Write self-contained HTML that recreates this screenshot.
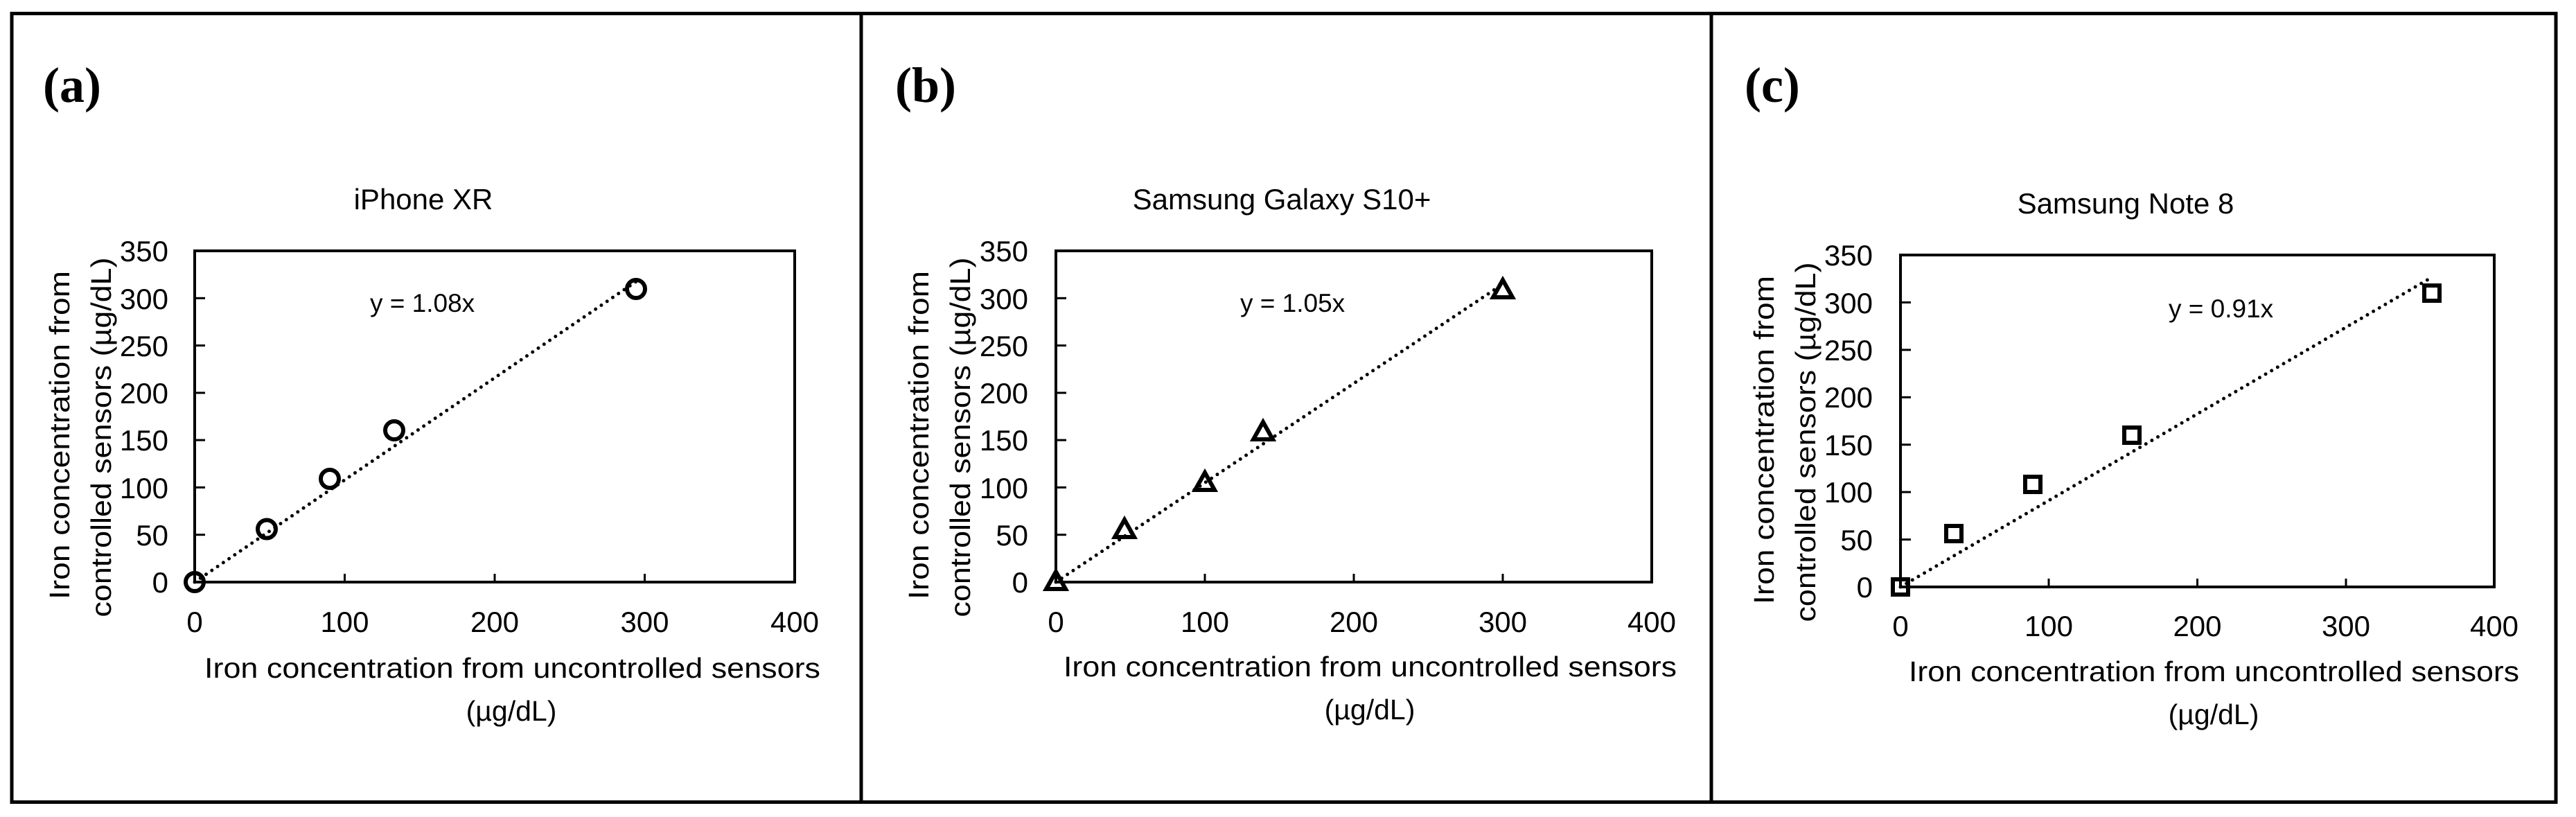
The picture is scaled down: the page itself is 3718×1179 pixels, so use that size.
<!DOCTYPE html>
<html><head><meta charset="utf-8"><style>html,body{margin:0;padding:0;background:#fff}svg{display:block}</style></head>
<body>
<svg width="3718" height="1179" viewBox="0 0 3718 1179" xmlns="http://www.w3.org/2000/svg" font-family="Liberation Sans, sans-serif" fill="#000">
<rect x="0" y="0" width="3718" height="1179" fill="#fff"/>
<rect x="17" y="19.5" width="3672" height="1138" fill="none" stroke="#000" stroke-width="5"/>
<line x1="1243" y1="19" x2="1243" y2="1158" stroke="#000" stroke-width="5"/>
<line x1="2470" y1="19" x2="2470" y2="1158" stroke="#000" stroke-width="5"/>

<g font-family="Liberation Serif, serif" font-weight="bold" font-size="72">
<text x="62" y="147">(a)</text>
<text x="1292" y="147">(b)</text>
<text x="2518" y="147">(c)</text>
</g>

<!-- Panel A -->
<g>
<text x="611" y="302" font-size="42" text-anchor="middle">iPhone XR</text>
<rect x="281" y="362" width="866" height="478" fill="none" stroke="#000" stroke-width="4"/>
<g stroke="#000" stroke-width="3">
<line x1="281" y1="771.7" x2="296" y2="771.7"/><line x1="281" y1="703.4" x2="296" y2="703.4"/><line x1="281" y1="635.1" x2="296" y2="635.1"/><line x1="281" y1="566.9" x2="296" y2="566.9"/><line x1="281" y1="498.6" x2="296" y2="498.6"/><line x1="281" y1="430.3" x2="296" y2="430.3"/>
<line x1="497.5" y1="840" x2="497.5" y2="828"/><line x1="714" y1="840" x2="714" y2="828"/><line x1="930.5" y1="840" x2="930.5" y2="828"/>
</g>
<g font-size="42" text-anchor="end">
<text x="243" y="855">0</text><text x="243" y="787">50</text><text x="243" y="719">100</text><text x="243" y="650">150</text><text x="243" y="582">200</text><text x="243" y="514">250</text><text x="243" y="446">300</text><text x="243" y="377">350</text>
</g>
<g font-size="42" text-anchor="middle">
<text x="281" y="912">0</text><text x="497.5" y="912">100</text><text x="714" y="912">200</text><text x="930.5" y="912">300</text><text x="1147" y="912">400</text>
</g>
<text x="295" y="978" font-size="41" textLength="889" lengthAdjust="spacingAndGlyphs">Iron concentration from uncontrolled sensors</text>
<text x="738" y="1040" font-size="41" text-anchor="middle">(µg/dL)</text>
<text transform="translate(100,628) rotate(-90)" font-size="41" text-anchor="middle" textLength="474" lengthAdjust="spacingAndGlyphs">Iron concentration from</text>
<text transform="translate(160,631) rotate(-90)" font-size="41" text-anchor="middle" textLength="519" lengthAdjust="spacingAndGlyphs">controlled sensors (µg/dL)</text>
<text x="534" y="450" font-size="37">y = 1.08x</text>
<line x1="281" y1="840" x2="920" y2="405" stroke="#000" stroke-width="5" stroke-linecap="round" stroke-dasharray="0 10"/>
<g fill="none" stroke="#000" stroke-width="6">
<circle cx="281" cy="840" r="13"/><circle cx="385" cy="763.5" r="13"/><circle cx="476" cy="691" r="13"/><circle cx="569" cy="621" r="13"/><circle cx="918" cy="417" r="13"/>
</g>
</g>

<!-- Panel B -->
<g>
<text x="1850" y="302" font-size="42" text-anchor="middle">Samsung Galaxy S10+</text>
<rect x="1524" y="362" width="860" height="478" fill="none" stroke="#000" stroke-width="4"/>
<g stroke="#000" stroke-width="3">
<line x1="1524" y1="771.7" x2="1539" y2="771.7"/><line x1="1524" y1="703.4" x2="1539" y2="703.4"/><line x1="1524" y1="635.1" x2="1539" y2="635.1"/><line x1="1524" y1="566.9" x2="1539" y2="566.9"/><line x1="1524" y1="498.6" x2="1539" y2="498.6"/><line x1="1524" y1="430.3" x2="1539" y2="430.3"/>
<line x1="1739" y1="840" x2="1739" y2="828"/><line x1="1954" y1="840" x2="1954" y2="828"/><line x1="2169" y1="840" x2="2169" y2="828"/>
</g>
<g font-size="42" text-anchor="end">
<text x="1484" y="855">0</text><text x="1484" y="787">50</text><text x="1484" y="719">100</text><text x="1484" y="650">150</text><text x="1484" y="582">200</text><text x="1484" y="514">250</text><text x="1484" y="446">300</text><text x="1484" y="377">350</text>
</g>
<g font-size="42" text-anchor="middle">
<text x="1524" y="912">0</text><text x="1739" y="912">100</text><text x="1954" y="912">200</text><text x="2169" y="912">300</text><text x="2384" y="912">400</text>
</g>
<text x="1535" y="976" font-size="41" textLength="885" lengthAdjust="spacingAndGlyphs">Iron concentration from uncontrolled sensors</text>
<text x="1977" y="1038" font-size="41" text-anchor="middle">(µg/dL)</text>
<text transform="translate(1340,628) rotate(-90)" font-size="41" text-anchor="middle" textLength="474" lengthAdjust="spacingAndGlyphs">Iron concentration from</text>
<text transform="translate(1400,631) rotate(-90)" font-size="41" text-anchor="middle" textLength="519" lengthAdjust="spacingAndGlyphs">controlled sensors (µg/dL)</text>
<text x="1790" y="450" font-size="37">y = 1.05x</text>
<line x1="1524" y1="840" x2="2169" y2="410" stroke="#000" stroke-width="5" stroke-linecap="round" stroke-dasharray="0 10"/>
<g fill="none" stroke="#000" stroke-width="6" stroke-linejoin="miter">
<polygon points="1524,825 1538,850 1510,850"/>
<polygon points="1623,750 1637,775 1609,775"/>
<polygon points="1739,682 1753,707 1725,707"/>
<polygon points="1823,609 1837,634 1809,634"/>
<polygon points="2169,404 2183,429 2155,429"/>
</g>
</g>

<!-- Panel C -->
<g>
<text x="3068" y="308" font-size="42" text-anchor="middle">Samsung Note 8</text>
<rect x="2743" y="368" width="857" height="479" fill="none" stroke="#000" stroke-width="4"/>
<g stroke="#000" stroke-width="3">
<line x1="2743" y1="778.6" x2="2758" y2="778.6"/><line x1="2743" y1="710.1" x2="2758" y2="710.1"/><line x1="2743" y1="641.7" x2="2758" y2="641.7"/><line x1="2743" y1="573.3" x2="2758" y2="573.3"/><line x1="2743" y1="504.9" x2="2758" y2="504.9"/><line x1="2743" y1="436.4" x2="2758" y2="436.4"/>
<line x1="2957" y1="847" x2="2957" y2="835"/><line x1="3171.5" y1="847" x2="3171.5" y2="835"/><line x1="3386" y1="847" x2="3386" y2="835"/>
</g>
<g font-size="42" text-anchor="end">
<text x="2703" y="862">0</text><text x="2703" y="794">50</text><text x="2703" y="725">100</text><text x="2703" y="657">150</text><text x="2703" y="588">200</text><text x="2703" y="520">250</text><text x="2703" y="452">300</text><text x="2703" y="383">350</text>
</g>
<g font-size="42" text-anchor="middle">
<text x="2743" y="918">0</text><text x="2957" y="918">100</text><text x="3171.5" y="918">200</text><text x="3386" y="918">300</text><text x="3600" y="918">400</text>
</g>
<text x="2755" y="983" font-size="41" textLength="881" lengthAdjust="spacingAndGlyphs">Iron concentration from uncontrolled sensors</text>
<text x="3195" y="1045" font-size="41" text-anchor="middle">(µg/dL)</text>
<text transform="translate(2560,635) rotate(-90)" font-size="41" text-anchor="middle" textLength="474" lengthAdjust="spacingAndGlyphs">Iron concentration from</text>
<text transform="translate(2620,638) rotate(-90)" font-size="41" text-anchor="middle" textLength="519" lengthAdjust="spacingAndGlyphs">controlled sensors (µg/dL)</text>
<text x="3130" y="458" font-size="37">y = 0.91x</text>
<line x1="2743" y1="847" x2="3505" y2="403" stroke="#000" stroke-width="5" stroke-linecap="round" stroke-dasharray="0 10"/>
<g fill="none" stroke="#000" stroke-width="6">
<rect x="2732" y="836" width="22" height="22"/>
<rect x="2809" y="759" width="22" height="22"/>
<rect x="2923" y="688" width="22" height="22"/>
<rect x="3066" y="617" width="22" height="22"/>
<rect x="3499" y="412" width="22" height="22"/>
</g>
</g>
</svg>
</body></html>
